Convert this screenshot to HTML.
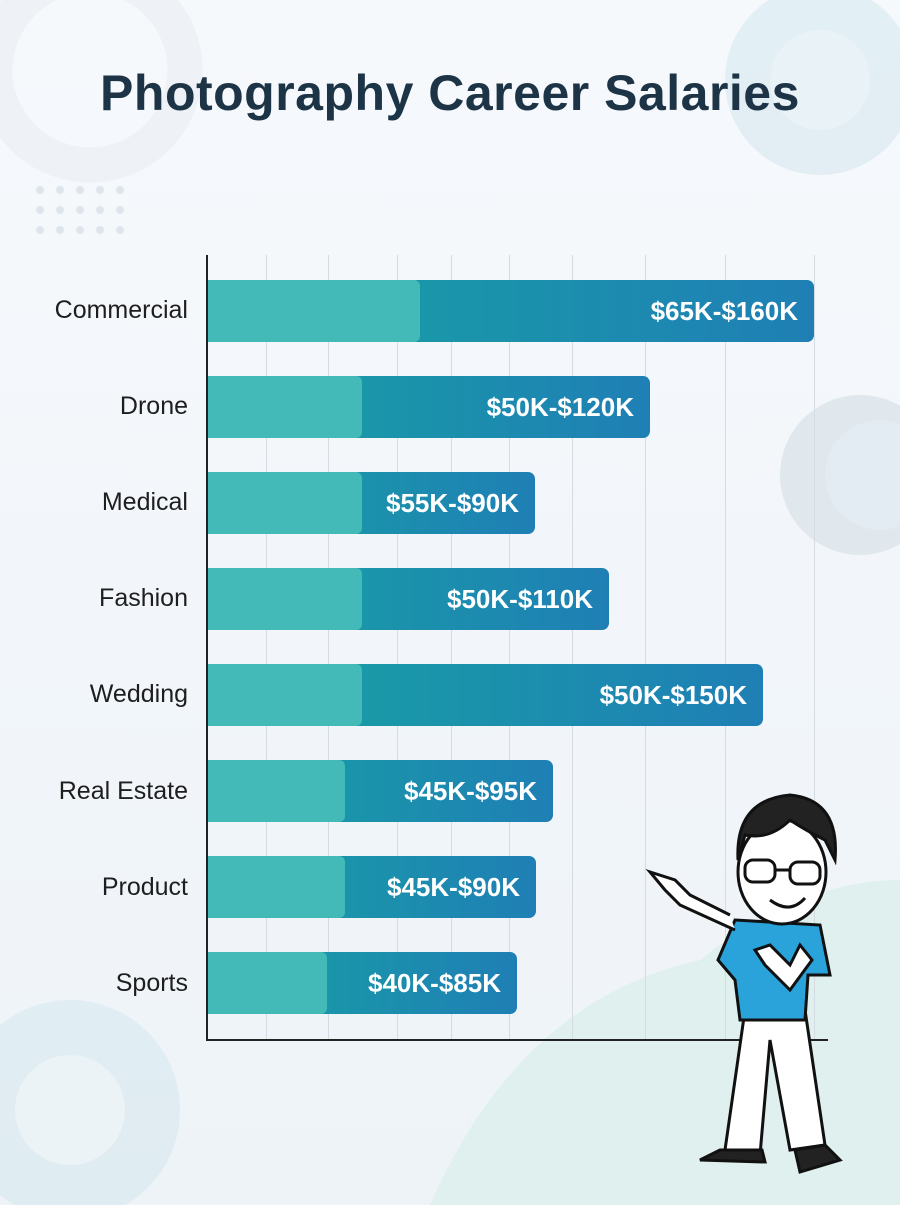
<!DOCTYPE html>
<html><head><meta charset="utf-8"><style>
body{margin:0;width:900px;height:1205px;overflow:hidden;background:linear-gradient(180deg,#f6f9fc,#eef3f8);font-family:"Liberation Sans",sans-serif;position:relative}
.t{position:absolute;top:64px;left:0;width:900px;text-align:center;font-size:50px;font-weight:bold;color:#1d3447;letter-spacing:0.5px}
.lab{position:absolute;right:712px;font-size:25px;color:#1e1e1e;text-align:right;white-space:nowrap}
.bar{position:absolute;left:208px;height:62px;border-radius:0 7px 7px 0;background:linear-gradient(90deg,#17a3a3,#1f7fb5)}
.bar .l{position:absolute;left:0;top:0;bottom:0;background:#44bab8;border-radius:0 6px 6px 0}
.bar span{position:absolute;right:16px;top:0;line-height:62px;color:#fff;font-weight:bold;font-size:26px}
.g{position:absolute;top:255px;height:785px;width:1px;background:#d5dbe2}
</style></head><body>
<svg width="900" height="1205" style="position:absolute;left:0;top:0">
<circle cx="90" cy="70" r="95" fill="none" stroke="#eef2f6" stroke-width="35"/>
<circle cx="820" cy="80" r="95" fill="#d6e7ef" opacity="0.6"/>
<circle cx="820" cy="80" r="50" fill="#e9f2f6"/>
<circle cx="860" cy="475" r="80" fill="#d3dde5" opacity="0.6"/>
<circle cx="880" cy="475" r="55" fill="#e3ecf2"/>
<circle cx="70" cy="1110" r="110" fill="#d6e7ef" opacity="0.6"/>
<circle cx="70" cy="1110" r="55" fill="#ebf3f6"/>
<path d="M430 1205 Q520 1000 700 960 Q800 880 900 880 L900 1205Z" fill="#d8eeeb" opacity="0.7"/>
<g fill="#dfe5ec"><circle cx="40" cy="190" r="4"/><circle cx="60" cy="190" r="4"/><circle cx="80" cy="190" r="4"/><circle cx="100" cy="190" r="4"/><circle cx="120" cy="190" r="4"/>
<circle cx="40" cy="210" r="4"/><circle cx="60" cy="210" r="4"/><circle cx="80" cy="210" r="4"/><circle cx="100" cy="210" r="4"/><circle cx="120" cy="210" r="4"/>
<circle cx="40" cy="230" r="4"/><circle cx="60" cy="230" r="4"/><circle cx="80" cy="230" r="4"/><circle cx="100" cy="230" r="4"/><circle cx="120" cy="230" r="4"/></g>
</svg>
<div class="t">Photography Career Salaries</div>
<div class="g" style="left:266px"></div><div class="g" style="left:328px"></div><div class="g" style="left:397px"></div><div class="g" style="left:451px"></div><div class="g" style="left:509px"></div><div class="g" style="left:572px"></div><div class="g" style="left:645px"></div><div class="g" style="left:725px"></div><div class="g" style="left:814px"></div>
<div style="position:absolute;left:206px;top:255px;width:2px;height:786px;background:#222"></div>
<div style="position:absolute;left:206px;top:1039px;width:622px;height:2px;background:#222"></div>

<div class="lab" style="top:296px">Commercial</div>
<div class="bar" style="top:280px;width:606px"><div class="l" style="width:212px"></div><span>$65K-$160K</span></div>
<div class="lab" style="top:392px">Drone</div>
<div class="bar" style="top:376px;width:442px"><div class="l" style="width:154px"></div><span>$50K-$120K</span></div>
<div class="lab" style="top:488px">Medical</div>
<div class="bar" style="top:472px;width:327px"><div class="l" style="width:154px"></div><span>$55K-$90K</span></div>
<div class="lab" style="top:584px">Fashion</div>
<div class="bar" style="top:568px;width:401px"><div class="l" style="width:154px"></div><span>$50K-$110K</span></div>
<div class="lab" style="top:680px">Wedding</div>
<div class="bar" style="top:664px;width:555px"><div class="l" style="width:154px"></div><span>$50K-$150K</span></div>
<div class="lab" style="top:777px">Real Estate</div>
<div class="bar" style="top:760px;width:345px"><div class="l" style="width:137px"></div><span>$45K-$95K</span></div>
<div class="lab" style="top:873px">Product</div>
<div class="bar" style="top:856px;width:328px"><div class="l" style="width:137px"></div><span>$45K-$90K</span></div>
<div class="lab" style="top:969px">Sports</div>
<div class="bar" style="top:952px;width:309px"><div class="l" style="width:119px"></div><span>$40K-$85K</span></div>

<svg width="900" height="1205" style="position:absolute;left:0;top:0">
<g stroke="#111" stroke-width="3">
<path d="M745 1010 L725 1150 L760 1155 L770 1040 L790 1150 L825 1145 L805 1010Z" fill="#fff"/>
<path d="M720 1150 L700 1160 L765 1162 L762 1150Z" fill="#222"/>
<path d="M795 1150 L800 1172 L840 1160 L825 1145Z" fill="#222"/>
<path d="M735 920 L820 925 L830 975 L808 975 L805 1020 L740 1020 L735 980 L718 960Z" fill="#2aa3db"/>
<path d="M735 930 L680 905 L665 890 L650 872 L675 880 L690 895 L730 915" fill="#fff"/>
<path d="M812 960 L790 990 L765 965 L755 950 L770 945 L790 965 L800 945Z" fill="#fff"/>
<ellipse cx="782" cy="872" rx="44" ry="52" fill="#fff"/>
<path d="M738 860 Q735 800 790 795 Q840 800 835 860 L825 840 Q805 830 790 820 Q770 840 745 835Z" fill="#222"/>
<rect x="745" y="860" width="30" height="22" rx="8" fill="none"/><rect x="790" y="862" width="30" height="22" rx="8" fill="none"/>
<path d="M775 870 L790 870"/>
<path d="M770 900 Q790 915 805 898" fill="none"/>
</g>
</svg>
</body></html>
